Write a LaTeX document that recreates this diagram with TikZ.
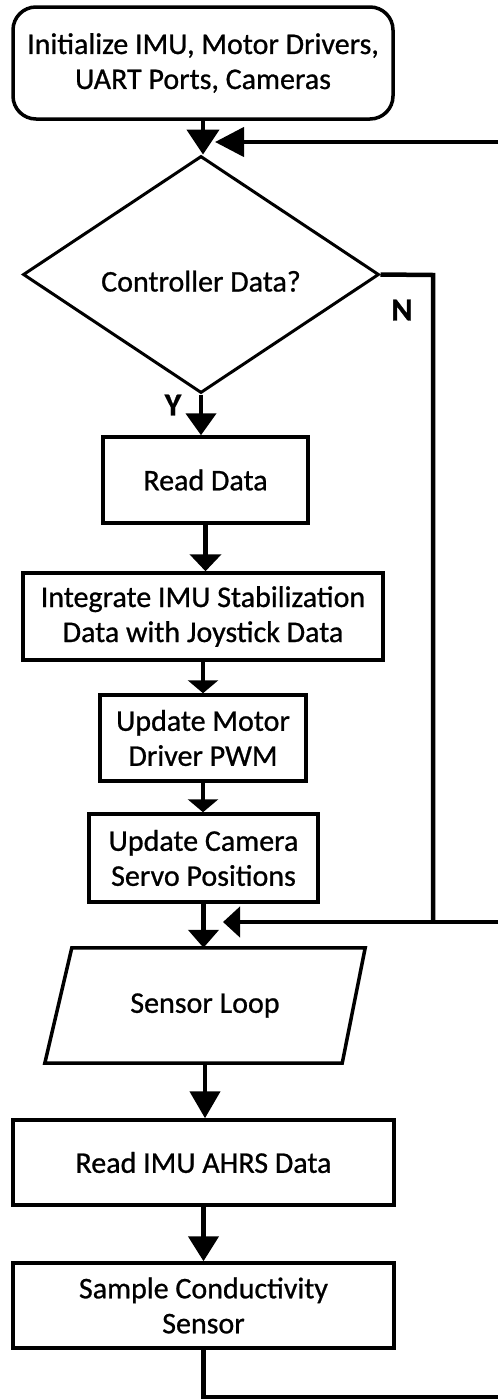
\documentclass[tikz,border=0pt]{standalone}
\usepackage{fontspec}
\setmainfont{Carlito}[FakeBold=0.8]
\usetikzlibrary{arrows.meta,shapes.geometric}
\newcommand{\flowtxt}{\fontsize{30}{35}\selectfont}
\newcommand{\labtxt}{\fontsize{32}{32}\bfseries\selectfont}
\begin{document}
\begin{tikzpicture}[x=1pt,y=-1pt,
  box/.style={draw, line width=3.5pt, align=center, inner sep=0pt, font=\flowtxt},
  con/.style={line width=4.5pt},
  lab/.style={font=\labtxt, inner sep=0pt}]
\useasboundingbox[fill=white] (0,0) rectangle (498,1400);

\node[box, rounded corners=23pt, minimum width=380pt, minimum height=112pt] (init) at (203,63) {Initialize IMU, Motor Drivers,\\UART Ports, Cameras};
\node[diamond, draw, line width=3pt, minimum width=356pt, minimum height=237pt, inner sep=0pt, font=\flowtxt] (dec) at (201,274.5) {\raisebox{-17pt}[0pt][0pt]{Controller Data?}};
\node[box, minimum width=205pt, minimum height=86pt] (read) at (205.5,480) {Read Data};
\node[box, minimum width=360pt, minimum height=87pt] (integ) at (203,616.5) {Integrate IMU Stabilization\\Data with Joystick Data};
\node[box, minimum width=206pt, minimum height=86pt] (motor) at (203,738) {Update Motor\\Driver PWM};
\node[box, minimum width=229pt, minimum height=88pt] (cam) at (203.5,858) {Update Camera\\Servo Positions};
\node[minimum width=297pt, minimum height=115pt, inner sep=0pt, font=\flowtxt] (loop) at (205,1005.5) {Sensor Loop};
\draw[line width=3.5pt, line join=miter] ([xshift=15.5pt]loop.north west) -- ([xshift=11.5pt]loop.north east) -- ([xshift=-11.5pt]loop.south east) -- ([xshift=-11.5pt]loop.south west) -- cycle;
\node[box, minimum width=381pt, minimum height=85pt] (imu) at (203.5,1162.5) {Read IMU AHRS Data};
\node[box, minimum width=381pt, minimum height=85pt] (sample) at (203.5,1305.5) {Sample Conductivity\\Sensor};

\node[lab] (ylab) at (173,405) {Y};
\node[lab] (nlab) at (402,310) {N};

\coordinate (r1) at (498,142);
\coordinate (j1) at (215,142);
\coordinate (nc) at (433,275);
\coordinate (r2) at (498,922);
\coordinate (j2) at (223,922);
\coordinate (b1) at (203.5,1397);
\coordinate (r3) at (498,1397);

\draw[con,-{Triangle[width=32pt,length=25pt]}] (init.south) -- (init.south |- dec.north);
\draw[con,-{Triangle[width=29pt,length=29pt]}] (r1) -- (j1);
\draw[con,-{Triangle[width=30pt,length=22pt]}] (dec.south) -- (dec.south |- read.north);
\draw[con] (dec.east) -- (nc) -- (nc |- j2);
\draw[con,-{Triangle[width=31pt,length=17pt]}] (read.south) -- (read.south |- integ.north);
\draw[con,-{Triangle[width=30pt,length=13pt]}] (integ.south) -- (integ.south |- motor.north);
\draw[con,-{Triangle[width=30pt,length=13pt]}] (motor.south) -- (motor.south |- cam.north);
\draw[con,-{Triangle[width=30pt,length=18pt]}] (cam.south) -- (cam.south |- loop.north);
\draw[con,-{Triangle[width=30pt,length=17pt]}] (r2) -- (j2);
\draw[con,-{Triangle[width=30pt,length=27pt]}] (loop.south) -- (loop.south |- imu.north);
\draw[con,-{Triangle[width=30pt,length=25pt]}] (imu.south) -- (imu.south |- sample.north);
\draw[con] (sample.south) -- (b1) -- (r3);
\end{tikzpicture}
\end{document}
